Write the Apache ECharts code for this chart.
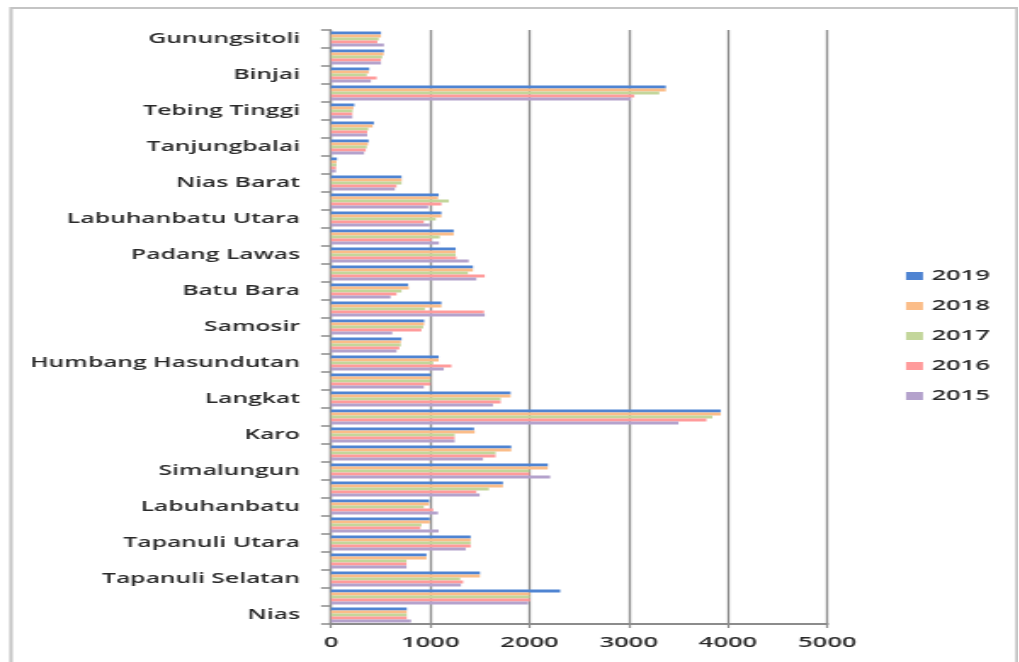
<!DOCTYPE html>
<html>
<head>
<meta charset="utf-8">
<script src="https://cdn.jsdelivr.net/npm/echarts@6/dist/echarts.min.js"></script>
<style>
  html, body { margin: 0; padding: 0; background: #ffffff; overflow: hidden; }
  #chart { height: 662px; transform-origin: 0 0; }
</style>
</head>
<body>
<div id="chart"></div>
<script>
// Regencies and cities, listed from the bottom of the axis to the top
const regions = [
  'Nias', 'Mandailing Natal', 'Tapanuli Selatan', 'Tapanuli Tengah', 'Tapanuli Utara',
  'Toba Samosir', 'Labuhanbatu', 'Asahan', 'Simalungun', 'Dairi', 'Karo', 'Deli Serdang',
  'Langkat', 'Nias Selatan', 'Humbang Hasundutan', 'Pakpak Bharat', 'Samosir',
  'Serdang Bedagai', 'Batu Bara', 'Padang Lawas Utara', 'Padang Lawas',
  'Labuhanbatu Selatan', 'Labuhanbatu Utara', 'Nias Utara', 'Nias Barat', 'Sibolga',
  'Tanjungbalai', 'Pematangsiantar', 'Tebing Tinggi', 'Medan', 'Binjai',
  'Padangsidimpuan', 'Gunungsitoli'
];

const v2019 = [763, 2309, 1500, 962, 1407, 995, 988, 1732, 2184, 1816, 1441, 3926, 1809, 1002, 1085, 710, 938, 1112, 777, 1430, 1256, 1236, 1112, 1085, 710, 60, 379, 432, 235, 3373, 385, 533, 503];
const v2018 = [763, 2004, 1500, 962, 1407, 995, 988, 1732, 2184, 1816, 1447, 3926, 1809, 1002, 1085, 703, 938, 1112, 784, 1430, 1256, 1236, 1112, 1078, 712, 55, 372, 419, 225, 3373, 380, 530, 503];
const v2017 = [763, 2004, 1302, 760, 1407, 911, 935, 1591, 2000, 1658, 1246, 3842, 1709, 1002, 1028, 703, 928, 945, 710, 1380, 1256, 1095, 1055, 1186, 710, 55, 360, 375, 218, 3307, 360, 515, 480];
const v2016 = [763, 2004, 1331, 760, 1407, 900, 1028, 1464, 2000, 1658, 1246, 3782, 1709, 1002, 1213, 687, 911, 1541, 660, 1548, 1263, 1012, 935, 1112, 660, 50, 350, 365, 215, 3055, 460, 503, 466];
const v2015 = [806, 1986, 1309, 760, 1357, 1085, 1078, 1497, 2208, 1531, 1246, 3500, 1632, 935, 1136, 660, 617, 1548, 600, 1464, 1387, 1088, 995, 978, 643, 50, 333, 365, 215, 3022, 402, 503, 533];

const years = ['2019', '2018', '2017', '2016', '2015'];
const yearValues = [v2019, v2018, v2017, v2016, v2015];
const yearColors = ['#4f84d2', '#fbbd89', '#c3d69b', '#ff9b9b', '#b4a2cc'];

const axisMin = 0;
const axisMax = 5000;
const axisStep = 1000;

// The drawing uses a horizontally stretched type face: the canvas is laid out
// at a narrower width and widened by STRETCH.
const STRETCH = 1.7;
const PAGE_W = 1019;
const W = PAGE_W / STRETCH;
const sx = px => px / STRETCH;

const el = document.getElementById('chart');
el.style.width = W + 'px';
el.style.transform = 'scaleX(' + STRETCH + ')';

const FONT = '"Open Sans", "Noto Sans", sans-serif';
const TEXT = '#2a2a2a';
const LINE = '#8c8c8c';

const chart = echarts.init(el, null, { renderer: 'canvas' });

chart.setOption({
  animation: false,
  backgroundColor: '#ffffff',
  grid: {
    left: sx(331),
    right: W - sx(828),
    top: 30,
    bottom: 38,
    containLabel: false
  },
  legend: {
    orient: 'vertical',
    left: sx(906),
    top: 268,
    data: years,
    icon: 'rect',
    itemWidth: sx(17),
    itemHeight: 8,
    itemGap: 14,
    padding: 0,
    textStyle: { fontFamily: FONT, fontSize: 15, fontWeight: 600, color: TEXT, lineHeight: 16 }
  },
  xAxis: {
    type: 'value',
    min: axisMin,
    max: axisMax,
    interval: axisStep,
    axisLine: { show: true, lineStyle: { color: LINE, width: 2 } },
    axisTick: { show: true, length: 4, lineStyle: { color: LINE, width: 1.2 } },
    splitLine: { show: true, lineStyle: { color: LINE, width: 1.3 } },
    axisLabel: {
      margin: 11, fontFamily: FONT, fontSize: 15, fontWeight: 600, color: TEXT,
      formatter: value => String(value)
    }
  },
  yAxis: {
    type: 'category',
    data: regions,
    axisLine: { show: true, lineStyle: { color: LINE, width: 1.3 } },
    axisTick: { show: true, interval: 0, length: sx(10), lineStyle: { color: LINE, width: 1.5 } },
    axisLabel: { interval: 1, margin: sx(31), fontFamily: FONT, fontSize: 14.5, fontWeight: 600, color: TEXT },
    splitLine: { show: false }
  },
  series: years.map((year, i) => ({
    name: year,
    type: 'bar',
    data: yearValues[i],
    barWidth: 3,
    barGap: '0%',
    itemStyle: { color: yearColors[i] },
    emphasis: { disabled: true }
  })),
  graphic: [{
    type: 'rect',
    silent: true,
    shape: { x: sx(11), y: 8, width: sx(1017) - sx(11), height: 720 },
    style: { fill: 'none', stroke: '#c4c4c4', lineWidth: 2 }
  }]
});
</script>
</body>
</html>
